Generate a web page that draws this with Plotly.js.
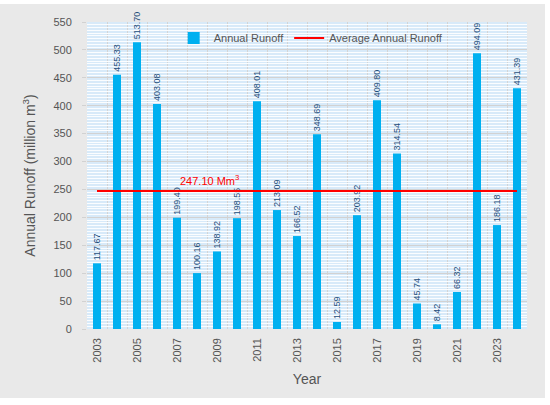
<!DOCTYPE html>
<html><head><meta charset="utf-8">
<script src="https://cdn.plot.ly/plotly-3.0.1.min.js"></script>
<style>
html,body{margin:0;padding:0;background:#ffffff;}
#chart{position:absolute;left:0;top:4px;width:545px;height:394px;}
</style></head>
<body><div id="chart"></div>
<script>
const years = [2003,2004,2005,2006,2007,2008,2009,2010,2011,2012,2013,2014,2015,2016,2017,2018,2019,2020,2021,2022,2023,2024];
const runoff = [117.67,455.33,513.70,403.08,199.40,100.16,138.92,198.55,408.01,213.09,166.52,348.69,12.59,203.92,409.80,314.54,45.74,8.42,66.32,494.09,186.18,431.39];
const averageRunoff = 247.10;
const tickYears = [2003,2005,2007,2009,2011,2013,2015,2017,2019,2021,2023];
const avgLabel = "247.10 Mm<sup>3</sup>";

const FONT = "Liberation Sans, Arial, sans-serif";

const bars = {
  type: 'bar', name: 'Annual Runoff', x: years, y: runoff,
  marker: {color: '#00b0f0'},
  width: 0.4,
  text: runoff.map(v => v.toFixed(2)),
  textposition: 'outside', textangle: -90,
  textfont: {size: 9, color: '#1f4e79', family: FONT},
  constraintext: 'none', cliponaxis: false,
  hoverinfo: 'x+y'
};
const avg = {
  type: 'scatter', mode: 'lines', name: 'Average Annual Runoff',
  x: [years[0], years[years.length-1]], y: [averageRunoff, averageRunoff],
  line: {color: '#ff0000', width: 2}
};

const layout = {
  width: 545, height: 394,
  margin: {l: 87, r: 18, t: 18, b: 69},
  paper_bgcolor: '#e9e9e9', plot_bgcolor: '#d8eaf9',
  font: {family: FONT, color: '#555555', size: 11},
  showlegend: true,
  legend: {orientation: 'h', x: 0.197, y: 0.948, xanchor: 'left', yanchor: 'middle',
           bgcolor: 'rgba(0,0,0,0)', font: {size: 11, color: '#555555'}, traceorder: 'normal'},
  xaxis: {
    range: [2002.5, 2024.5], tickvals: tickYears, ticktext: tickYears.map(String),
    tickangle: -90, showgrid: false, zeroline: false, ticks: '',
    tickfont: {size: 11, color: '#555555'}, ticklabelstandoff: 6,
    minor: {tick0: 2002.5, dtick: 1, showgrid: true, gridcolor: '#d4d4d4', gridwidth: 1},
    title: {text: 'Year', font: {size: 14, color: '#555555'}, standoff: 12}
  },
  yaxis: {
    range: [0, 550], dtick: 50, showgrid: true, gridcolor: '#d2d2d2', gridwidth: 1,
    zeroline: false, ticks: 'outside', ticklen: 4, tickcolor: '#d2d2d2',
    tickfont: {size: 11, color: '#555555'}, ticklabelstandoff: 8,
    minor: {dtick: 5, showgrid: true, gridcolor: '#fbfdff', gridwidth: 1},
    title: {text: 'Annual Runoff (million m<sup>3</sup>)', font: {size: 14, color: '#555555'}, standoff: 14}
  },
  annotations: [{
    x: 2008.6, y: averageRunoff, xref: 'x', yref: 'y', text: avgLabel,
    showarrow: false, yanchor: 'bottom', yshift: 2,
    font: {size: 11, color: '#ff0000', family: FONT}
  }]
};

Plotly.newPlot('chart', [bars, avg], layout, {displayModeBar: false, staticPlot: true});
</script></body></html>
